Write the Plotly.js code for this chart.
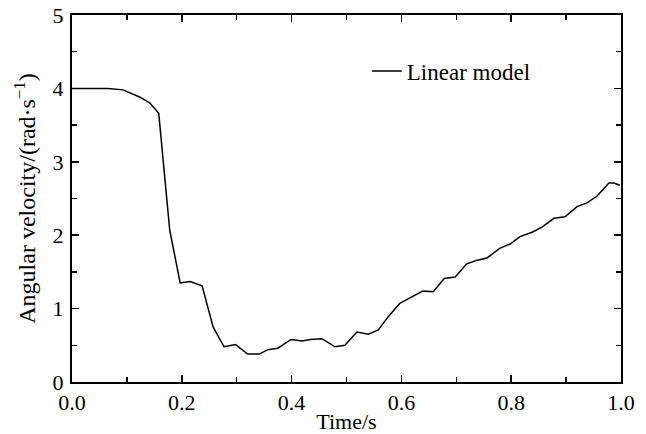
<!DOCTYPE html>
<html>
<head>
<meta charset="utf-8">
<script src="https://cdn.plot.ly/plotly-3.0.1.min.js"></script>
<style>html,body{margin:0;padding:0;background:#fff;}#chart{width:646px;height:434px;}</style>
</head>
<body>
<div id="chart"></div>
<script>
const timeS = [0.0, 0.03, 0.066, 0.093, 0.124, 0.142, 0.158, 0.178, 0.197, 0.215, 0.237, 0.257, 0.277, 0.298, 0.320, 0.341, 0.357, 0.375, 0.399, 0.419, 0.434, 0.455, 0.479, 0.497, 0.519, 0.540, 0.558, 0.576, 0.597, 0.619, 0.639, 0.658, 0.678, 0.698, 0.719, 0.738, 0.756, 0.779, 0.798, 0.816, 0.838, 0.856, 0.878, 0.898, 0.920, 0.938, 0.956, 0.967, 0.978, 0.987, 0.998];
const angVel = [4.0, 4.0, 4.0, 3.98, 3.88, 3.80, 3.66, 2.07, 1.35, 1.37, 1.31, 0.75, 0.48, 0.51, 0.38, 0.38, 0.44, 0.46, 0.58, 0.56, 0.58, 0.59, 0.48, 0.50, 0.68, 0.65, 0.71, 0.89, 1.07, 1.16, 1.24, 1.23, 1.41, 1.43, 1.61, 1.66, 1.69, 1.82, 1.88, 1.98, 2.04, 2.11, 2.23, 2.25, 2.39, 2.44, 2.53, 2.62, 2.71, 2.71, 2.68];
const xTicks = [0, 0.2, 0.4, 0.6, 0.8, 1.0];
const yTicks = [0, 1, 2, 3, 4, 5];
const seriesName = "Linear model";

const fam = "Liberation Serif, Times New Roman, serif";
const f = (s) => ({family: fam, size: s, color: "#000"});
const axisCommon = {
  showgrid: false, zeroline: false, showline: true, linecolor: "#000", linewidth: 2,
  mirror: "allticks", ticks: "inside", ticklen: 7, tickwidth: 1.5, tickcolor: "#000"
};
Plotly.newPlot("chart", [{
  x: timeS, y: angVel, type: "scatter", mode: "lines", name: seriesName,
  line: {color: "#000", width: 1.5}
}], {
  width: 646, height: 434,
  margin: {l: 72, r: 25, t: 15, b: 52},
  paper_bgcolor: "#fff", plot_bgcolor: "#fff",
  font: f(20),
  showlegend: true,
  legend: {x: 0.537, y: 0.847, xanchor: "left", yanchor: "middle", bgcolor: "rgba(0,0,0,0)", font: f(23)},
  xaxis: Object.assign({}, axisCommon, {
    range: [0, 1], tickvals: xTicks, ticktext: xTicks.map(v => v.toFixed(1)), tickfont: f(22), ticklabelstandoff: 0,
    minor: {tickvals: [0.1, 0.3, 0.5, 0.7, 0.9], ticklen: 5, tickwidth: 1.5, tickcolor: "#000", ticks: "inside"},
    title: {text: "Time/s", font: f(22), standoff: 0}
  }),
  yaxis: Object.assign({}, axisCommon, {
    range: [0, 5], tickvals: yTicks, tickfont: f(22), ticklabelstandoff: 2,
    minor: {tickvals: [0.5, 1.5, 2.5, 3.5, 4.5], ticklen: 5, tickwidth: 1.5, tickcolor: "#000", ticks: "inside"},
    title: {text: "Angular velocity/(rad·s<sup>−1</sup>)", font: f(24), standoff: 10}
  })
}, {staticPlot: true});
</script>
</body>
</html>
